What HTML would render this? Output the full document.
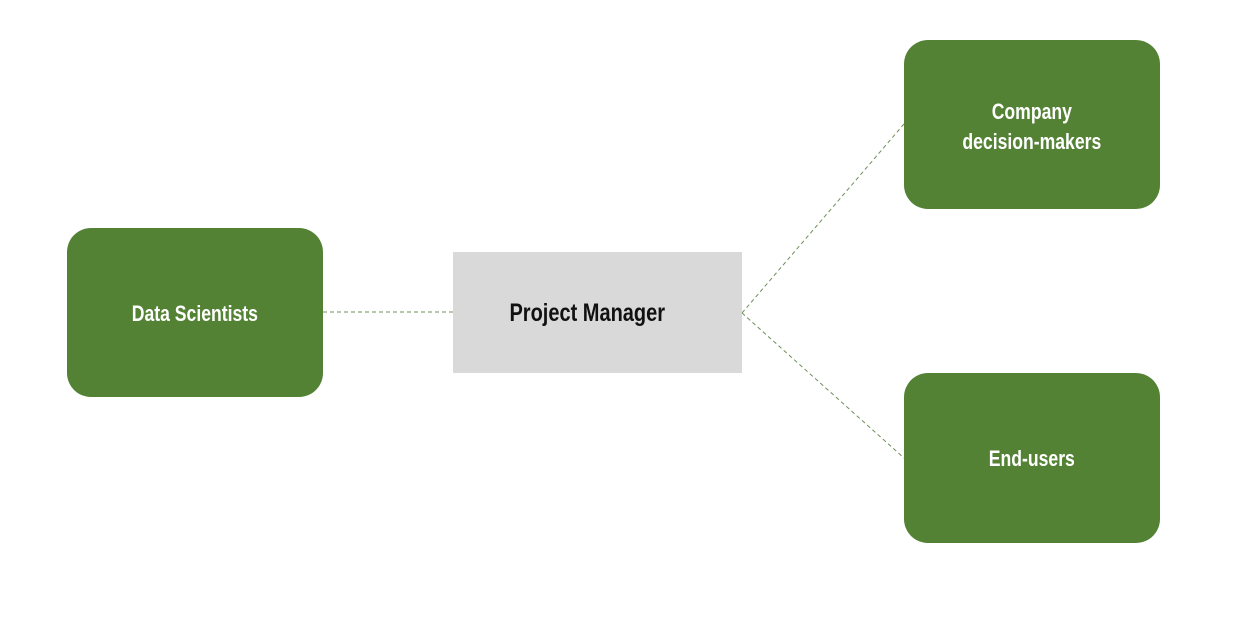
<!DOCTYPE html>
<html><head><meta charset="utf-8"><style>
body{margin:0;width:1240px;height:618px;background:#fff;position:relative;overflow:hidden;font-family:"Liberation Sans",sans-serif}
.g{position:absolute;background:#548235;border-radius:24px;color:#fff;font-weight:bold;font-size:22px;display:flex;align-items:center;justify-content:center;text-align:center;line-height:30px}
.g span,.pm span{display:inline-block;transform:scaleX(0.8)}
.pm{position:absolute;left:453px;top:252px;width:289px;height:121px;background:#d9d9d9;color:#111;font-weight:bold;font-size:25px;display:flex;align-items:center;justify-content:center}
svg{position:absolute;left:0;top:0}
</style></head><body>
<svg width="1240" height="618"><g stroke="#6e8f5a" stroke-width="1" stroke-dasharray="4,3" fill="none">
<line x1="323" y1="312" x2="453" y2="312"/>
<line x1="742" y1="313" x2="904" y2="124"/>
<line x1="742" y1="313" x2="904" y2="458"/>
</g></svg>
<div class="g" style="left:67px;top:228px;width:256px;height:169px"><span style="margin-top:2px">Data Scientists</span></div>
<div class="pm"><span style="margin-left:-20px;margin-top:2px">Project Manager</span></div>
<div class="g" style="left:904px;top:40px;width:256px;height:169px"><span style="margin-top:4px">Company<br>decision-makers</span></div>
<div class="g" style="left:904px;top:373px;width:256px;height:170px"><span style="margin-top:2px">End-users</span></div>
</body></html>
